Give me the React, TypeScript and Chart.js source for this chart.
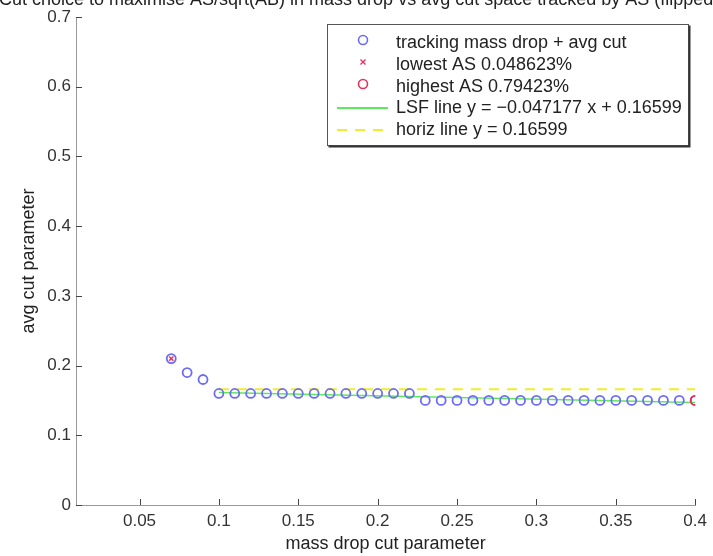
import React, { useEffect, useRef } from "react";
import { Chart, registerables } from "chart.js";

Chart.register(...registerables);

// mass drop cut values scanned, and the avg cut chosen for each
const massDrop = [
  0.07, 0.08, 0.09, 0.1, 0.11, 0.12, 0.13, 0.14, 0.15, 0.16, 0.17, 0.18,
  0.19, 0.2, 0.21, 0.22, 0.23, 0.24, 0.25, 0.26, 0.27, 0.28, 0.29, 0.3,
  0.31, 0.32, 0.33, 0.34, 0.35, 0.36, 0.37, 0.38, 0.39, 0.4,
];
const avgCut = [
  0.21, 0.19, 0.18, 0.16, 0.16, 0.16, 0.16, 0.16, 0.16, 0.16, 0.16, 0.16,
  0.16, 0.16, 0.16, 0.16, 0.15, 0.15, 0.15, 0.15, 0.15, 0.15, 0.15, 0.15,
  0.15, 0.15, 0.15, 0.15, 0.15, 0.15, 0.15, 0.15, 0.15, 0.15,
];

const lowestX = [0.07];
const lowestY = [0.21];
const highestX = [0.4];
const highestY = [0.15];

// least-squares fit y = -0.047177 x + 0.16599 over the flat region
const lsfX = [0.1, 0.4];
const lsfY = [0.16127, 0.14712];
const horizX = [0.1, 0.4];
const horizY = [0.16599, 0.16599];

const xTicks = [0.05, 0.1, 0.15, 0.2, 0.25, 0.3, 0.35, 0.4];
const yTicks = [0, 0.1, 0.2, 0.3, 0.4, 0.5, 0.6, 0.7];

const titleText =
  "Cut choice to maximise AS/sqrt(AB) in mass drop vs avg cut space tracked by AS (flipped)";
const legendLabels = [
  "tracking mass drop + avg cut",
  "lowest AS 0.048623%",
  "highest AS 0.79423%",
  "LSF line y = \u22120.047177 x + 0.16599",
  "horiz line y = 0.16599",
];

const FONT = "'Liberation Sans', Arial, Helvetica, sans-serif";
const BLUE = "#6c6cf4";
const RED = "#e8305c";
const GREEN = "#5ee85e";
const YELLOW = "#eeee2a";

const pts = (xs: number[], ys: number[]) => xs.map((x, i) => ({ x, y: ys[i] }));

const decorPlugin = {
  id: "decor",
  afterDraw(chart: any) {
    const { ctx, scales } = chart;
    const xs = scales.x;
    const ys = scales.y;
    const area = chart.chartArea;
    ctx.save();

    // inward tick marks
    ctx.strokeStyle = "#444";
    ctx.lineWidth = 1;
    ctx.beginPath();
    xTicks.forEach((v) => {
      const px = Math.round(xs.getPixelForValue(v)) + 0.5;
      ctx.moveTo(px, area.bottom);
      ctx.lineTo(px, area.bottom - 6);
    });
    yTicks.forEach((v) => {
      const py = Math.round(ys.getPixelForValue(v)) + 0.5;
      ctx.moveTo(area.left, py);
      ctx.lineTo(area.left + 6, py);
    });
    ctx.stroke();

    // title, running past the top edge of the figure
    ctx.fillStyle = "#222";
    ctx.font = `18px ${FONT}`;
    ctx.textAlign = "left";
    ctx.textBaseline = "alphabetic";
    ctx.fillText(titleText, -1, 5);

    // legend box
    const bx = 327.5, by = 24.5, bw = 361, bh = 121;
    ctx.fillStyle = "#fff";
    ctx.fillRect(bx, by, bw, bh);
    ctx.strokeStyle = "#555";
    ctx.lineWidth = 1;
    ctx.strokeRect(bx, by, bw, bh);
    ctx.strokeStyle = "#333";
    ctx.lineWidth = 2;
    ctx.beginPath();
    ctx.moveTo(bx + bw + 1, by + 1);
    ctx.lineTo(bx + bw + 1, by + bh + 1);
    ctx.lineTo(bx + 1, by + bh + 1);
    ctx.stroke();

    const rowY = [43, 65, 87, 108, 130];
    const mx = 363;
    ctx.font = `18px ${FONT}`;
    ctx.fillStyle = "#222";
    ctx.textBaseline = "middle";
    legendLabels.forEach((t, i) => ctx.fillText(t, 396, rowY[i]));

    ctx.lineWidth = 1.6;
    ctx.strokeStyle = BLUE;
    ctx.beginPath();
    ctx.arc(mx, rowY[0] - 3, 4.5, 0, Math.PI * 2);
    ctx.stroke();

    ctx.strokeStyle = RED;
    ctx.lineWidth = 1.4;
    ctx.beginPath();
    ctx.moveTo(mx - 2.5, rowY[1] - 5.5);
    ctx.lineTo(mx + 2.5, rowY[1] - 0.5);
    ctx.moveTo(mx + 2.5, rowY[1] - 5.5);
    ctx.lineTo(mx - 2.5, rowY[1] - 0.5);
    ctx.stroke();

    ctx.lineWidth = 1.6;
    ctx.beginPath();
    ctx.arc(mx, rowY[2] - 3, 4.5, 0, Math.PI * 2);
    ctx.stroke();

    ctx.strokeStyle = GREEN;
    ctx.lineWidth = 2;
    ctx.beginPath();
    ctx.moveTo(337, rowY[3]);
    ctx.lineTo(388, rowY[3]);
    ctx.stroke();

    ctx.strokeStyle = YELLOW;
    ctx.setLineDash([10, 8]);
    ctx.beginPath();
    ctx.moveTo(337, rowY[4]);
    ctx.lineTo(388, rowY[4]);
    ctx.stroke();
    ctx.setLineDash([]);

    ctx.restore();
  },
};

export default function App() {
  const ref = useRef<HTMLCanvasElement>(null);

  useEffect(() => {
    if (!ref.current) return;
    const chart = new Chart(ref.current, {
      type: "scatter",
      data: {
        datasets: [
          {
            label: legendLabels[1],
            data: pts(lowestX, lowestY),
            pointStyle: "crossRot",
            pointRadius: 3,
            borderColor: RED,
            borderWidth: 1.5,
            order: 0,
          },
          {
            label: legendLabels[2],
            data: pts(highestX, highestY),
            pointStyle: "circle",
            pointRadius: 4.5,
            borderColor: RED,
            backgroundColor: "rgba(0,0,0,0)",
            borderWidth: 1.8,
            order: 0,
          },
          {
            label: legendLabels[0],
            data: pts(massDrop, avgCut),
            pointStyle: "circle",
            pointRadius: 4.5,
            borderColor: BLUE,
            backgroundColor: "rgba(0,0,0,0)",
            borderWidth: 1.8,
            order: 1,
          },
          {
            label: legendLabels[3],
            data: pts(lsfX, lsfY),
            showLine: true,
            pointRadius: 0,
            borderColor: GREEN,
            borderWidth: 1.6,
            order: 2,
          },
          {
            label: legendLabels[4],
            data: pts(horizX, horizY),
            showLine: true,
            pointRadius: 0,
            borderColor: YELLOW,
            borderWidth: 2,
            borderDash: [10, 8],
            order: 3,
          },
        ],
      },
      options: {
        responsive: false,
        animation: false,
        layout: { padding: { top: 17, right: 17, left: 0, bottom: 0 } },
        plugins: {
          legend: { display: false },
          title: { display: false },
          tooltip: { enabled: false },
        },
        scales: {
          x: {
            type: "linear",
            min: 0.01,
            max: 0.4,
            grid: { display: false, drawTicks: false, tickLength: 0 },
            border: { display: true, color: "#999", width: 1 },
            afterFit: (s: any) => {
              s.height = 51;
            },
            afterBuildTicks: (s: any) => {
              s.ticks = xTicks.map((value) => ({ value }));
            },
            ticks: {
              padding: 6,
              color: "#333",
              font: { family: FONT, size: 17 },
              maxRotation: 0,
              autoSkip: false,
              callback: (v: any) => String(v),
            },
            title: {
              display: true,
              text: "mass drop cut parameter",
              color: "#222",
              font: { family: FONT, size: 18 },
              padding: { top: 0, bottom: 1 },
            },
          },
          y: {
            type: "linear",
            min: 0,
            max: 0.7,
            grid: { display: false, drawTicks: false, tickLength: 0 },
            border: { display: true, color: "#999", width: 1 },
            afterFit: (s: any) => {
              s.width = 76;
            },
            afterBuildTicks: (s: any) => {
              s.ticks = yTicks.map((value) => ({ value }));
            },
            ticks: {
              padding: 5,
              color: "#333",
              font: { family: FONT, size: 17 },
              autoSkip: false,
              callback: (v: any) => String(v),
            },
            title: {
              display: true,
              text: "avg cut parameter",
              color: "#222",
              font: { family: FONT, size: 18 },
              padding: { top: 18, bottom: 0 },
            },
          },
        },
      },
      plugins: [decorPlugin],
    });
    return () => chart.destroy();
  }, []);

  return (
    <div style={{ position: "fixed", left: 0, top: 0, width: 713, height: 556, background: "#fff" }}>
      <canvas ref={ref} width={713} height={556} />
    </div>
  );
}
